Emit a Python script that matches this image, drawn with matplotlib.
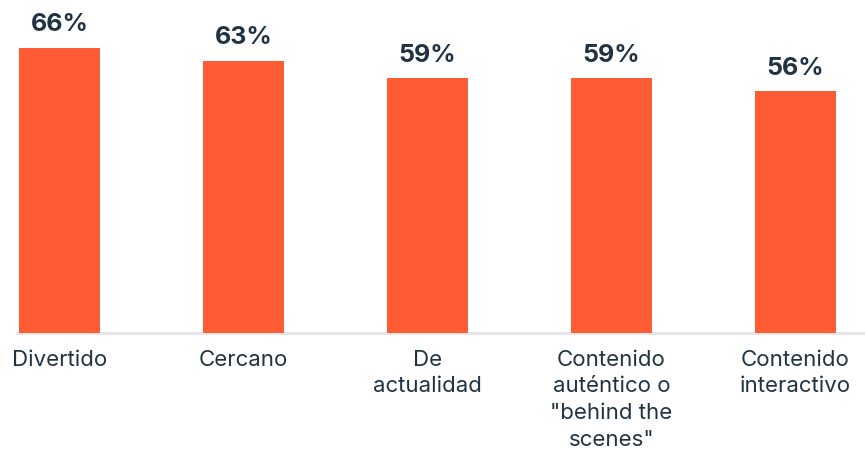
import numpy as np
import matplotlib.pyplot as plt

categories = ["Divertido", "Cercano", "De\nactualidad",
              "Contenido\nauténtico o\n\"behind the\nscenes\"", "Contenido\ninteractivo"]
values = [66, 63, 59, 59, 56]

bar_color = "#FF5C35"
text_color = "#213343"

plt.rcParams['font.family'] = ['Inter', 'DejaVu Sans']

fig = plt.figure(figsize=(8.65, 4.49), dpi=100)
ax = fig.add_axes([17 / 865, 1 - 333 / 449, 848 / 865, 333 / 449])

x = np.arange(len(categories))
ax.bar(x, values, width=0.44, color=bar_color, zorder=2)

for xi, v in zip(x, values):
    ax.annotate(f"{v}%", (xi, v), xytext=(0, 8), textcoords="offset points",
                ha="center", va="bottom", fontsize=18, fontweight="bold",
                color=text_color)

ax.set_xlim(-0.231, 4.378)
ax.set_ylim(0, 77)
ax.set_xticks(x)
ax.set_xticklabels(categories, fontsize=16, color=text_color, linespacing=1.42,
                   va="top")
ax.tick_params(axis="x", length=0, pad=12)
ax.set_yticks([])
for s in ["top", "left", "right"]:
    ax.spines[s].set_visible(False)
ax.spines["bottom"].set_color("#e5e5e5")
ax.spines["bottom"].set_linewidth(2)
ax.spines["bottom"].set_zorder(1)

fig.savefig("out.png", dpi=100)
